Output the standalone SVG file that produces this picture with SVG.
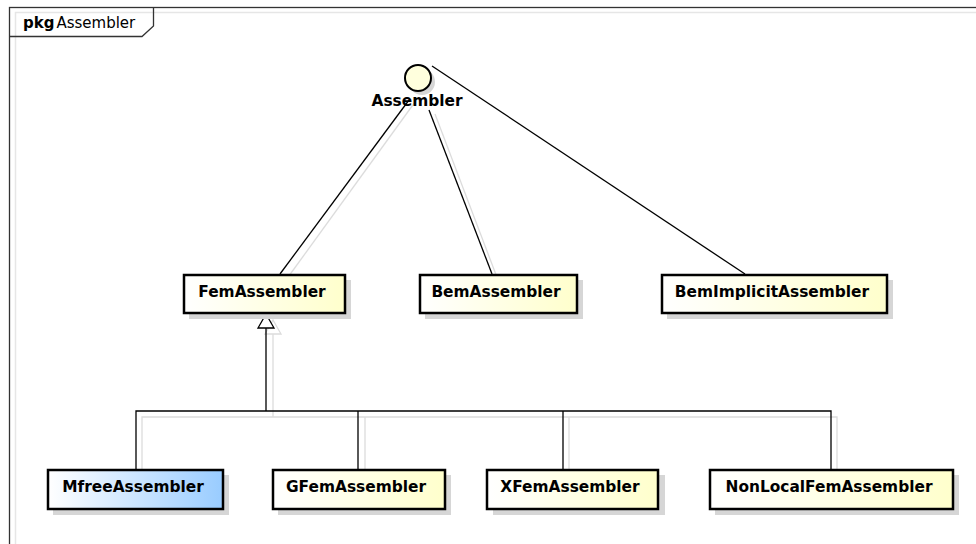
<svg xmlns="http://www.w3.org/2000/svg" width="976" height="544" viewBox="0 0 976 544">
<defs>
<linearGradient id="gy" x1="0" y1="0" x2="1" y2="0"><stop offset="0" stop-color="#ffffff"/><stop offset="1" stop-color="#ffffcc"/></linearGradient>
<linearGradient id="gb" x1="0" y1="0" x2="1" y2="0"><stop offset="0" stop-color="#ffffff"/><stop offset="1" stop-color="#99ccff"/></linearGradient>
<style>
.box{stroke:#000;stroke-width:2.5}
.sh{fill:#d6d6d6}
.lbl{font-family:"DejaVu Sans",Verdana,sans-serif;font-weight:bold;font-size:15.4px;fill:#000}
.ln{stroke:#000;stroke-width:1.3;fill:none}
.lns{stroke:#dcdcdc;stroke-width:1.3;fill:none}
</style>
</defs>
<rect width="976" height="544" fill="#fff"/>
<g id="frame">
<rect x="15.5" y="12.5" width="1000" height="600" fill="none" stroke="#e6e6e6" stroke-width="1.5"/>
<rect x="9.5" y="7.5" width="1000" height="600" fill="none" stroke="#333" stroke-width="1.3"/>
<path d="M9.5,36.5 H142 L153.5,26 V7.5" fill="none" stroke="#333" stroke-width="1.3"/>
<text x="23" y="28" font-family="DejaVu Sans,Verdana,sans-serif" font-size="15" fill="#000"><tspan font-weight="bold">pkg</tspan><tspan dx="2">Assembler</tspan></text>
</g>
<g id="connectors">
<line class="lns" x1="415" y1="102" x2="286" y2="280"/>
<line class="lns" x1="435" y1="114" x2="498" y2="280"/>
<line class="ln" x1="409" y1="100" x2="280" y2="274"/>
<line class="ln" x1="429" y1="110" x2="492" y2="274"/>
<line class="ln" x1="432" y1="66" x2="745" y2="274"/>
<path class="lns" d="M273,334 V417 M142,469 V417 H837 V469 M365,469 V417 M569,469 V417"/>
<path class="lns" d="M273,320 L281,334 H265 Z" fill="none"/>
<path class="ln" d="M266,328 V411 M136,469 V411 H831 V469 M358,469 V411 M563,469 V411"/>
<path d="M266,314 L274,328 H258 Z" fill="#fff" stroke="#000" stroke-width="1.3"/>
</g>
<g id="Assembler">
<circle cx="422" cy="82" r="13" fill="#d6d6d6"/>
<circle cx="418" cy="78" r="13" fill="#ffffdd" stroke="#000" stroke-width="2"/>
<text class="lbl" x="417" y="106" text-anchor="middle">Assembler</text>
</g>
<g id="FemAssembler">
<rect class="sh" x="189" y="280" width="162" height="39"/>
<rect class="box" x="184" y="275" width="161" height="38" fill="url(#gy)"/>
<text class="lbl" x="262" y="297" text-anchor="middle">FemAssembler</text>
</g>
<g id="BemAssembler">
<rect class="sh" x="425" y="280" width="158" height="39"/>
<rect class="box" x="420" y="275" width="157" height="38" fill="url(#gy)"/>
<text class="lbl" x="496" y="297" text-anchor="middle">BemAssembler</text>
</g>
<g id="BemImplicitAssembler">
<rect class="sh" x="667" y="280" width="226" height="39"/>
<rect class="box" x="662" y="275" width="225" height="38" fill="url(#gy)"/>
<text class="lbl" x="772" y="297" text-anchor="middle">BemImplicitAssembler</text>
</g>
<g id="MfreeAssembler">
<rect class="sh" x="53" y="475" width="176" height="40"/>
<rect class="box" x="48" y="470" width="175" height="39" fill="url(#gb)"/>
<text class="lbl" x="133" y="492" text-anchor="middle">MfreeAssembler</text>
</g>
<g id="GFemAssembler">
<rect class="sh" x="278" y="475" width="173" height="40"/>
<rect class="box" x="273" y="470" width="172" height="39" fill="url(#gy)"/>
<text class="lbl" x="356" y="492" text-anchor="middle">GFemAssembler</text>
</g>
<g id="XFemAssembler">
<rect class="sh" x="493" y="475" width="172" height="40"/>
<rect class="box" x="487" y="470" width="171" height="39" fill="url(#gy)"/>
<text class="lbl" x="570" y="492" text-anchor="middle">XFemAssembler</text>
</g>
<g id="NonLocalFemAssembler">
<rect class="sh" x="715" y="475" width="244" height="40"/>
<rect class="box" x="710" y="470" width="243" height="39" fill="url(#gy)"/>
<text class="lbl" x="829" y="492" text-anchor="middle">NonLocalFemAssembler</text>
</g>
</svg>
